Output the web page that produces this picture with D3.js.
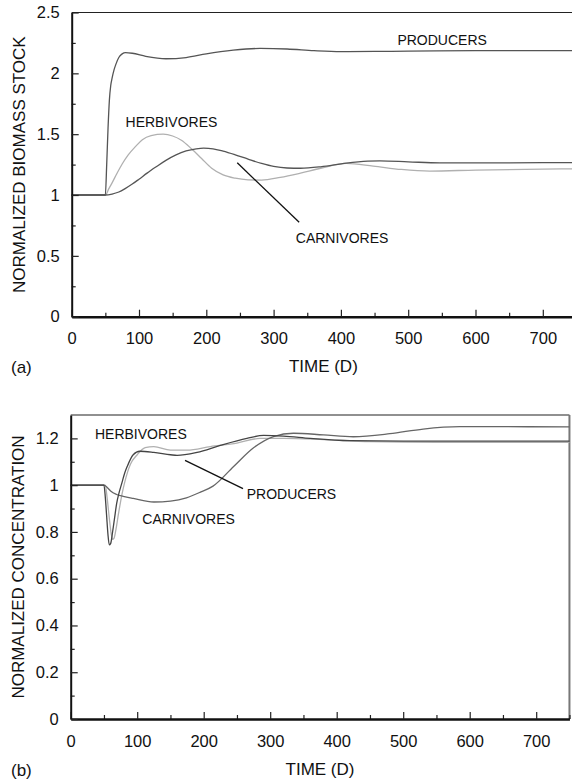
<!DOCTYPE html>
<html><head><meta charset="utf-8">
<script src="https://cdn.jsdelivr.net/npm/d3@7"></script>
<style>
body{margin:0;background:#fff;}
svg text{font-family:"Liberation Sans",Arial,sans-serif;fill:#111;}
</style></head>
<body><svg id="c" width="572" height="783"></svg>
<script>
// ---- Panel (a): normalized biomass stock ----
const aProducersT = [0,50,52,54,56,58,60,63,66,70,75,80,90,110,140,170,200,240,280,320,360,400,450,500,600,700,750];
const aProducersV = [1,1,1.25,1.55,1.78,1.90,1.96,2.03,2.08,2.13,2.16,2.17,2.165,2.14,2.12,2.13,2.16,2.19,2.205,2.2,2.186,2.178,2.18,2.182,2.186,2.187,2.187];
const aHerbivoresT = [0,50,55,60,67,75,84,95,105,118,136,150,163,178,193,208,225,243,262,282,310,340,370,408,448,490,532,600,700,750];
const aHerbivoresV = [1,1,1.05,1.10,1.175,1.255,1.33,1.40,1.455,1.488,1.50,1.485,1.45,1.38,1.30,1.22,1.165,1.138,1.125,1.123,1.145,1.18,1.22,1.26,1.238,1.21,1.197,1.205,1.213,1.215];
const aCarnivoresT = [0,50,60,70,80,90,100,112,125,140,155,170,185,196,210,225,243,262,282,300,320,340,370,408,440,458,500,547,650,750];
const aCarnivoresV = [1,1,1.008,1.025,1.055,1.09,1.13,1.18,1.23,1.285,1.33,1.362,1.38,1.386,1.38,1.36,1.33,1.295,1.26,1.235,1.222,1.22,1.232,1.262,1.278,1.281,1.273,1.264,1.265,1.266];
// ---- Panel (b): normalized concentration ----
const bProducersT = [0,50,52,54,56,58,60,63,66,69,73,77,81,85,94,104,125,150,160,190,225,265,290,320,360,420,500,600,750];
const bProducersV = [1,1,0.95,0.87,0.79,0.745,0.75,0.80,0.86,0.92,0.97,1.01,1.05,1.08,1.13,1.145,1.14,1.13,1.127,1.14,1.17,1.2,1.213,1.21,1.2,1.19,1.188,1.188,1.188];
const bHerbivoresT = [0,52,55,58,61,63,65,68,72,77,81,86,90,100,112,125,150,175,210,250,285,320,380,450,550,750];
const bHerbivoresV = [1,1,0.94,0.86,0.79,0.768,0.772,0.81,0.88,0.96,1.01,1.06,1.09,1.13,1.16,1.165,1.15,1.15,1.165,1.18,1.2,1.2,1.195,1.186,1.183,1.183];
const bCarnivoresT = [0,50,55,60,69,79,94,125,150,174,195,214,245,275,305,335,380,425,480,530,585,650,750];
const bCarnivoresV = [1,1,0.99,0.975,0.96,0.952,0.943,0.928,0.932,0.946,0.97,0.996,1.08,1.16,1.208,1.222,1.215,1.207,1.22,1.24,1.25,1.25,1.249];

const aYTicks = [0,0.5,1,1.5,2,2.5];
const bYTicks = [0,0.2,0.4,0.6,0.8,1,1.2];
const xTicks = [0,100,200,300,400,500,600,700];

// annotation texts (data coords)
const aLabels = [
  {text:"PRODUCERS", t:484, v:2.233},
  {text:"HERBIVORES", t:80, v:1.556},
  {text:"CARNIVORES", t:333, v:0.608}
];
const aLeader = [[246,1.265],[338,0.776]];
const bLabels = [
  {text:"HERBIVORES", t:36.5, v:1.196},
  {text:"CARNIVORES", t:107.7, v:0.836},
  {text:"PRODUCERS", t:264.7, v:0.939}
];
const bLeader = [[171.9,1.106],[259.1,0.985]];

const svg = d3.select("#c");

function zip(T,V){return T.map((t,i)=>[t,V[i]]);}

function panel(cfg){
  const g = svg.append("g");
  const x = d3.scaleLinear().domain([0,750]).range([cfg.left, cfg.left + cfg.pxPer100*7.5]);
  const y = d3.scaleLinear().domain(cfg.yDomain).range([cfg.bottom, cfg.top]);
  // frame
  g.append("line").attr("x1",cfg.left).attr("x2",x(750)).attr("y1",cfg.top).attr("y2",cfg.top)
    .attr("stroke","#222").attr("stroke-width",1.2);
  if(cfg.rightBorder){
    g.append("line").attr("x1",x(750)).attr("x2",x(750)).attr("y1",cfg.top).attr("y2",cfg.bottom)
      .attr("stroke","#777").attr("stroke-width",2);
  }
  // lines
  const line = d3.line().x(d=>x(d[0])).y(d=>y(d[1])).curve(d3.curveMonotoneX);
  cfg.series.forEach(s=>{
    g.append("path").datum(zip(s.T,s.V)).attr("d",line).attr("fill","none")
      .attr("stroke",s.color).attr("stroke-width",1.3);
  });
  // axes
  const xMinor = d3.range(50,751,100);
  g.append("g").attr("transform",`translate(0,${cfg.bottom})`)
    .call(d3.axisBottom(x).tickValues(xMinor).tickSize(-4).tickFormat(""))
    .call(a=>a.select(".domain").remove())
    .call(a=>a.selectAll("line").attr("stroke","#222").attr("stroke-width",1.2));
  const xa = g.append("g").attr("transform",`translate(0,${cfg.bottom})`)
    .call(d3.axisBottom(x).tickValues(xTicks).tickSize(-7).tickSizeOuter(0).tickPadding(16).tickFormat(d3.format("d")));
  xa.select(".domain").attr("stroke","#111").attr("stroke-width",2.6);
  xa.selectAll("line").attr("stroke","#222").attr("stroke-width",1.2);
  xa.selectAll("text").attr("font-size","16.5px").attr("fill","#111");

  g.append("g").attr("transform",`translate(${cfg.left},0)`)
    .call(d3.axisLeft(y).tickValues(cfg.yMinor).tickSize(-4).tickFormat(""))
    .call(a=>a.select(".domain").remove())
    .call(a=>a.selectAll("line").attr("stroke","#222").attr("stroke-width",1.2));
  const ya = g.append("g").attr("transform",`translate(${cfg.left},0)`)
    .call(d3.axisLeft(y).tickValues(cfg.yTicks).tickSize(-7).tickSizeOuter(0).tickPadding(12).tickFormat(d=>String(d)));
  ya.select(".domain").attr("stroke","#111").attr("stroke-width",2);
  ya.selectAll("line").attr("stroke","#222").attr("stroke-width",1.2);
  ya.selectAll("text").attr("font-size","16.5px").attr("fill","#111");

  // annotations
  cfg.labels.forEach(l=>{
    g.append("text").attr("x",x(l.t)).attr("y",y(l.v)).attr("font-size","14px").text(l.text);
  });
  g.append("line").attr("x1",x(cfg.leader[0][0])).attr("y1",y(cfg.leader[0][1]))
    .attr("x2",x(cfg.leader[1][0])).attr("y2",y(cfg.leader[1][1]))
    .attr("stroke","#111").attr("stroke-width",1.3);
  // titles
  g.append("text").attr("x",(cfg.left+cfg.titleRight)/2).attr("y",cfg.xTitleY)
    .attr("text-anchor","middle").attr("font-size","17px").text("TIME (D)");
  g.append("text").attr("transform",`translate(${cfg.yTitleX},${(cfg.top+cfg.bottom)/2}) rotate(-90)`)
    .attr("text-anchor","middle").attr("font-size","17px").text(cfg.yTitle);
  g.append("text").attr("x",11).attr("y",cfg.tagY).attr("font-size","17px").text(cfg.tag);
}

panel({
  left:71.7, pxPer100:67.3, top:12.5, bottom:316.7, yDomain:[0,2.5],
  yTicks:aYTicks, yMinor:[0.25,0.75,1.25,1.75,2.25],
  series:[
    {T:aHerbivoresT,V:aHerbivoresV,color:"#b0b0b0"},
    {T:aCarnivoresT,V:aCarnivoresV,color:"#555"},
    {T:aProducersT,V:aProducersV,color:"#555"}
  ],
  labels:aLabels, leader:aLeader, rightBorder:false, titleRight:575,
  xTitleY:372, yTitleX:25, yTitle:"NORMALIZED BIOMASS STOCK", tag:"(a)", tagY:373
});
panel({
  left:70.7, pxPer100:66.5, top:415, bottom:719, yDomain:[0,1.3],
  yTicks:bYTicks, yMinor:[0.1,0.3,0.5,0.7,0.9,1.1],
  series:[
    {T:bHerbivoresT,V:bHerbivoresV,color:"#b0b0b0"},
    {T:bCarnivoresT,V:bCarnivoresV,color:"#666"},
    {T:bProducersT,V:bProducersV,color:"#444"}
  ],
  labels:bLabels, leader:bLeader, rightBorder:true, titleRight:569.3,
  xTitleY:775, yTitleX:23.5, yTitle:"NORMALIZED CONCENTRATION", tag:"(b)", tagY:776
});
</script></body></html>
